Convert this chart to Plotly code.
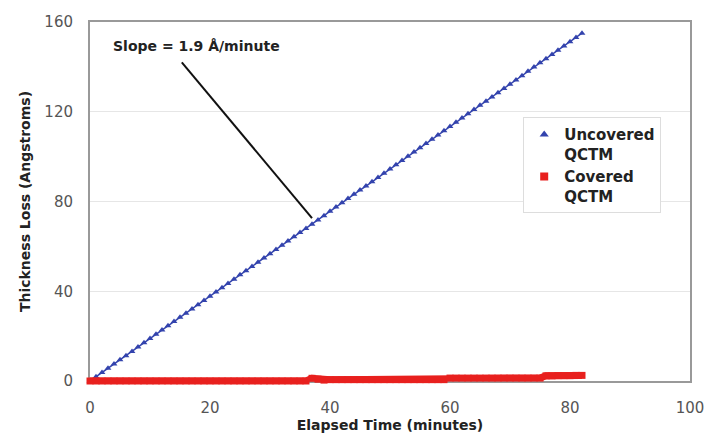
import plotly.graph_objects as go

# Elapsed time (minutes)
time_min = list(range(0, 83))

# Uncovered QCTM thickness loss (Angstroms)
uncovered = [0.0, 1.9, 3.8, 5.7, 7.6, 9.5, 11.3, 13.2, 15.1, 17.0,
             18.9, 20.8, 22.7, 24.6, 26.5, 28.4, 30.2, 32.1, 34.0, 35.9,
             37.8, 39.7, 41.6, 43.5, 45.4, 47.3, 49.1, 51.0, 52.9, 54.8,
             56.7, 58.6, 60.5, 62.4, 64.3, 66.2, 68.0, 69.9, 71.8, 73.7,
             75.6, 77.5, 79.4, 81.3, 83.2, 85.1, 86.9, 88.8, 90.7, 92.6,
             94.5, 96.4, 98.3, 100.2, 102.1, 104.0, 105.8, 107.7, 109.6, 111.5,
             113.4, 115.3, 117.2, 119.1, 121.0, 122.9, 124.7, 126.6, 128.5, 130.4,
             132.3, 134.2, 136.1, 138.0, 139.9, 141.8, 143.6, 145.5, 147.4, 149.3,
             151.2, 153.1, 155.0]

# Covered QCTM thickness loss (Angstroms)
covered = [0.0] * 37 + [1.2, 0.8, 0.4, 0.6, 0.6, 0.6, 0.6, 0.6, 0.6, 0.6,
                         0.6, 0.6, 0.6, 0.6, 0.6, 0.6, 0.6, 0.6, 0.6, 0.6,
                         0.6, 0.6, 0.6, 1.3, 1.3, 1.3, 1.3, 1.3, 1.3, 1.3,
                         1.3, 1.3, 1.3, 1.3, 1.3, 1.3, 1.3, 1.3, 1.3, 2.3,
                         2.3, 2.4, 2.4, 2.4, 2.5, 2.5]

x_ticks = [0, 20, 40, 60, 80, 100]
y_ticks = [0, 40, 80, 120, 160]

FONT = "DejaVu Sans, Verdana, sans-serif"
BLUE = "#3343ad"
RED = "#e8201e"

fig = go.Figure()
fig.add_trace(go.Scatter(
    x=time_min, y=uncovered, mode="lines+markers", showlegend=False,
    marker=dict(symbol="triangle-up", size=6, color=BLUE),
    line=dict(color=BLUE, width=1.5), cliponaxis=False))
fig.add_trace(go.Scatter(
    x=time_min, y=covered, mode="lines+markers", showlegend=False,
    marker=dict(symbol="square", size=7, color=RED),
    line=dict(color=RED, width=7), cliponaxis=False))
# legend entries (marker only)
fig.add_trace(go.Scatter(x=[None], y=[None], mode="markers", name="Uncovered<br>QCTM",
                         marker=dict(symbol="triangle-up", size=8, color=BLUE)))
fig.add_trace(go.Scatter(x=[None], y=[None], mode="markers", name="Covered<br>QCTM",
                         marker=dict(symbol="square", size=8, color=RED)))

# annotation
fig.add_shape(type="line", x0=15.3, y0=142, x1=37, y1=72.6,
              line=dict(color="#111111", width=2))
fig.add_annotation(x=17.75, y=149.3, text="Slope = 1.9 Å/minute", showarrow=False,
                   font=dict(family=FONT, size=14, color="#222", weight="bold"))

fig.update_layout(
    width=706, height=439,
    margin=dict(l=90, r=16, t=22, b=58),
    paper_bgcolor="white", plot_bgcolor="white",
    font=dict(family=FONT, color="#333"),
    legend=dict(x=0.722, y=0.735, xanchor="left", yanchor="top",
                bgcolor="white", bordercolor="#dddddd", borderwidth=1,
                font=dict(family=FONT, size=15, color="#222", weight="bold"),
                valign="top", tracegroupgap=0, itemwidth=30),
    showlegend=True,
)
fig.update_xaxes(range=[0, 100], tickvals=x_ticks, ticktext=[str(v) for v in x_ticks],
                 automargin=False, layer="below traces",
                 showgrid=False, zeroline=False, showline=True, mirror=True,
                 linecolor="#999999", linewidth=2, ticks="",
                 tickfont=dict(size=15, color="#555"), ticklabelstandoff=12,
                 title=dict(text="Elapsed Time (minutes)", standoff=4,
                            font=dict(family=FONT, size=14, color="#222", weight="bold")))
fig.update_yaxes(range=[0, 160], tickvals=y_ticks, ticktext=[str(v) for v in y_ticks],
                 automargin=False, layer="below traces",
                 showgrid=True, gridcolor="#e6e6e6", gridwidth=1, zeroline=False,
                 showline=True, mirror=True, linecolor="#999999", linewidth=2, ticks="",
                 tickfont=dict(size=15, color="#555"), ticklabelstandoff=12,
                 title=dict(text="Thickness Loss (Angstroms)", standoff=10,
                            font=dict(family=FONT, size=14, color="#222", weight="bold")))

fig.write_html("out.html")
